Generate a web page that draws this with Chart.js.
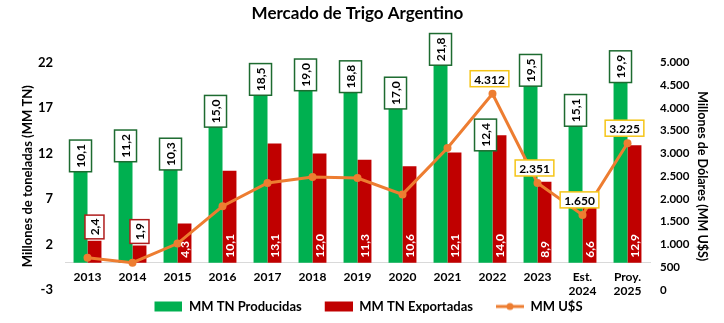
<!DOCTYPE html>
<html>
<head>
<meta charset="utf-8">
<script src="https://cdn.jsdelivr.net/npm/chart.js@4.4.1/dist/chart.umd.min.js"></script>
<style>
  html, body { margin: 0; padding: 0; background: #fff; }
  #wrap { width: 724px; height: 323px; }
</style>
</head>
<body>
<div id="wrap"><canvas id="chart"></canvas></div>
<script>
// datos
const years = ['2013', '2014', '2015', '2016', '2017', '2018', '2019', '2020', '2021', '2022', '2023', ['Est.', '2024'], ['Proy.', '2025']];
const producidas = [10.1, 11.2, 10.3, 15.0, 18.5, 19.0, 18.8, 17.0, 21.8, 12.4, 19.5, 15.1, 19.9];
const exportadas = [2.4, 1.9, 4.3, 10.1, 13.1, 12.0, 11.3, 10.6, 12.1, 14.0, 8.9, 6.6, 12.9];
const dolares = [710, 600, 1020, 1840, 2350, 2480, 2460, 2100, 3120, 4312, 2351, 1650, 3225];
const dolaresConEtiqueta = [9, 10, 11, 12];
const ticksToneladas = [-3, 2, 7, 12, 17, 22];

const FONT = 'Lato';
const VERDE = '#00B050';
const ROJO = '#C00000';
const NARANJA = '#ED7D31';

function coma(v) { return v.toFixed(1).replace('.', ','); }
function miles(v) { return String(Math.round(v)).replace(/\B(?=(\d{3})+(?!\d))/g, '.'); }

// iconos de la leyenda
function icono(tipo, color) {
    const c = document.createElement('canvas');
    c.width = 41; c.height = 12;
    const g = c.getContext('2d');
    if (tipo === 'caja') {
        g.fillStyle = color;
        g.fillRect(13, 1, 28, 10);
    } else {
        g.strokeStyle = color;
        g.lineWidth = 3;
        g.beginPath(); g.moveTo(13, 6); g.lineTo(41, 6); g.stroke();
        g.fillStyle = color;
        g.beginPath(); g.arc(27, 6, 3.5, 0, Math.PI * 2); g.fill();
    }
    return c;
}

// caja con texto vertical
function cajaVertical(ctx, txt, cx, abajo, ancho, pad, borde, relleno, colorTxt) {
    const tw = ctx.measureText(txt).width;
    const alto = tw + pad * 2;
    ctx.fillStyle = relleno;
    ctx.fillRect(cx - ancho / 2, abajo - alto, ancho, alto);
    ctx.strokeStyle = borde;
    ctx.lineWidth = 1.5;
    ctx.strokeRect(cx - ancho / 2, abajo - alto, ancho, alto);
    textoVertical(ctx, txt, cx, abajo - pad, colorTxt);
}

function textoVertical(ctx, txt, cx, inicio, color) {
    ctx.save();
    ctx.translate(cx, inicio);
    ctx.rotate(-Math.PI / 2);
    ctx.fillStyle = color;
    ctx.textAlign = 'left';
    ctx.textBaseline = 'middle';
    ctx.fillText(txt, 0, 1);
    ctx.restore();
}

const etiquetas = {
    id: 'etiquetas',
    afterDatasetsDraw(chart) {
        const ctx = chart.ctx;
        ctx.save();
        ctx.font = 'bold 12px ' + FONT;

        chart.getDatasetMeta(0).data.forEach((bar, i) => {
            cajaVertical(ctx, coma(producidas[i]), bar.x, bar.y + 1, 22, 4, '#1d6b30', '#fff', '#000');
        });

        chart.getDatasetMeta(1).data.forEach((bar, i) => {
            const txt = coma(exportadas[i]);
            if (exportadas[i] < 4) {
                cajaVertical(ctx, txt, bar.x, bar.y - 2, 19, 3.5, '#b01c1c', '#fff', '#000');
            } else {
                textoVertical(ctx, txt, bar.x, bar.base - 5, '#fff');
            }
        });

        const puntos = chart.getDatasetMeta(2).data;
        dolaresConEtiqueta.forEach(i => {
            const p = puntos[i];
            const txt = miles(dolares[i]);
            const tw = ctx.measureText(txt).width;
            const w = tw + 8, h = 16;
            const cx = p.x - 3;
            const abajo = p.y - 7;
            ctx.fillStyle = '#fff';
            ctx.fillRect(cx - w / 2, abajo - h, w, h);
            ctx.strokeStyle = '#F5C518';
            ctx.lineWidth = 1.5;
            ctx.strokeRect(cx - w / 2, abajo - h, w, h);
            ctx.fillStyle = '#000';
            ctx.textAlign = 'center';
            ctx.textBaseline = 'middle';
            ctx.fillText(txt, cx, abajo - h / 2 + 1);
        });
        ctx.restore();
    }
};

new Chart(document.getElementById('chart'), {
    type: 'bar',
    data: {
        labels: years,
        datasets: [
            {
                label: 'MM TN Producidas',
                data: producidas,
                backgroundColor: VERDE,
                yAxisID: 'y',
                order: 1,
                categoryPercentage: 0.62,
                barPercentage: 1
            },
            {
                label: 'MM TN Exportadas',
                data: exportadas,
                backgroundColor: ROJO,
                yAxisID: 'y',
                order: 1,
                categoryPercentage: 0.62,
                barPercentage: 1
            },
            {
                type: 'line',
                label: 'MM U$S',
                data: dolares,
                borderColor: NARANJA,
                backgroundColor: NARANJA,
                borderWidth: 3,
                pointRadius: 4,
                pointBackgroundColor: NARANJA,
                pointBorderWidth: 0,
                tension: 0,
                yAxisID: 'y1',
                order: 0
            }
        ]
    },
    options: {
        responsive: true,
        maintainAspectRatio: false,
        animation: false,
        layout: { padding: 0 },
        scales: {
            x: {
                position: { y: 0 },
                offset: true,
                grid: { display: false, drawTicks: false },
                border: { display: true, color: '#d9d9d9', width: 1 },
                ticks: {
                    color: '#000',
                    font: { family: FONT, size: 12, weight: 'bold' },
                    padding: 7,
                    maxRotation: 0,
                    autoSkip: false
                }
            },
            y: {
                position: 'left',
                min: -3,
                max: 22,
                afterBuildTicks: s => { s.ticks = ticksToneladas.map(v => ({ value: v })); },
                afterFit: s => { s.width = 65; },
                grid: { display: false, drawTicks: false },
                border: { display: false },
                ticks: {
                    color: '#000',
                    font: { family: FONT, size: 13, weight: 'bold' },
                    padding: 12
                },
                title: {
                    display: true,
                    text: 'Millones de toneladas (MM TN)',
                    color: '#000',
                    font: { family: FONT, size: 13, weight: 'bold' },
                    padding: { top: 20, bottom: 0 }
                }
            },
            y1: {
                position: 'right',
                min: 0,
                max: 5000,
                afterFit: s => { s.width = 74; },
                grid: { display: false, drawTicks: false },
                border: { display: false },
                ticks: {
                    stepSize: 500,
                    color: '#000',
                    font: { family: FONT, size: 11.5, weight: 'bold' },
                    padding: 10,
                    callback: v => miles(v)
                },
                title: {
                    display: true,
                    text: 'Millones de Dólares (MM U$S)',
                    color: '#000',
                    font: { family: FONT, size: 12.5, weight: 'bold' },
                    padding: { top: 14, bottom: 0 }
                }
            }
        },
        plugins: {
            title: {
                display: true,
                fullSize: false,
                text: 'Mercado de Trigo Argentino',
                color: '#000',
                font: { family: FONT, size: 17, weight: 'bold' },
                padding: { top: 3, bottom: 39 }
            },
            legend: {
                position: 'bottom',
                labels: {
                    color: '#000',
                    font: { family: FONT, size: 13, weight: 'bold' },
                    usePointStyle: true,
                    pointStyleWidth: 41,
                    boxHeight: 12,
                    padding: 10,
                    generateLabels: chart => chart.data.datasets.map((ds, i) => ({
                        text: ds.label,
                        pointStyle: icono(ds.type === 'line' ? 'linea' : 'caja', ds.backgroundColor),
                        fillStyle: ds.backgroundColor,
                        strokeStyle: ds.backgroundColor,
                        lineWidth: 0,
                        fontColor: '#000',
                        datasetIndex: i,
                        hidden: false
                    }))
                }
            },
            tooltip: { enabled: false }
        }
    },
    plugins: [etiquetas]
});
</script>
</body>
</html>
